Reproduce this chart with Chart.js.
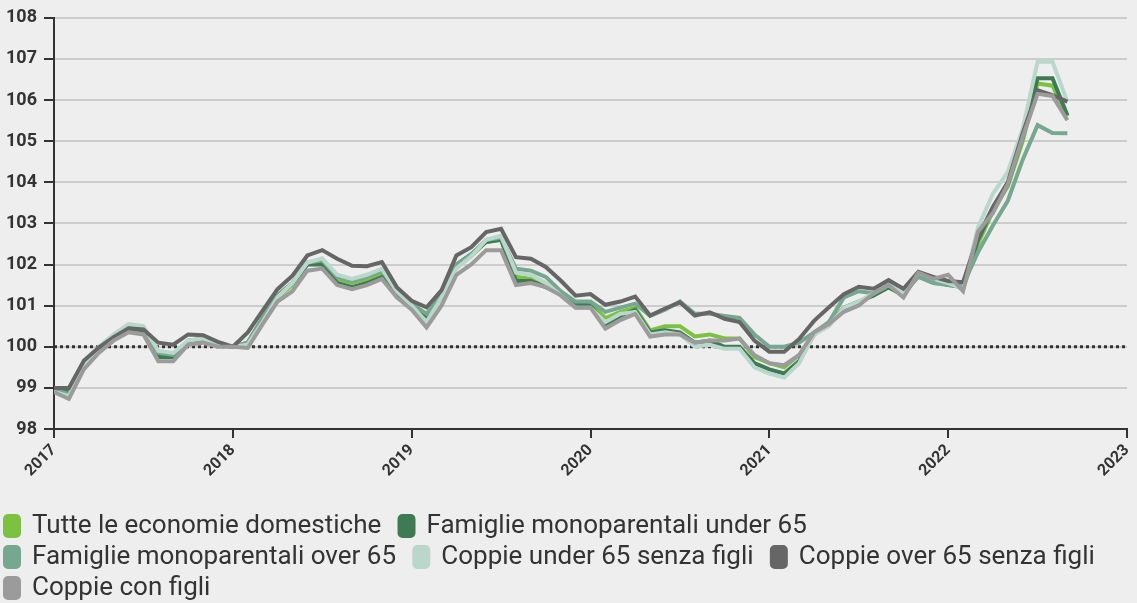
<!DOCTYPE html>
<html>
<head>
<meta charset="utf-8">
<script src="https://cdn.jsdelivr.net/npm/chart.js@4"></script>
<style>
  html, body { margin: 0; padding: 0; background: #eeeeee; }
  #wrap { width: 1137px; height: 603px; }
</style>
</head>
<body>
<div id="wrap"><canvas id="chart" width="1137" height="603"></canvas></div>
<script>
// mesi da gennaio 2017 (indice 0) a settembre 2022 (indice 68)
const yearLabels = ['2017', '2018', '2019', '2020', '2021', '2022', '2023'];

const seriesNames = [
    'Tutte le economie domestiche',
    'Famiglie monoparentali under 65',
    'Famiglie monoparentali over 65',
    'Coppie under 65 senza figli',
    'Coppie over 65 senza figli',
    'Coppie con figli',
];

const tutte = [
    98.95, 98.85, 99.5, 99.9, 100.2, 100.42, 100.35, 99.8, 99.75, 100.1, 100.15, 100.05,
    100.0, 100.05, 100.65, 101.2, 101.5, 102.0, 102.05, 101.65, 101.55, 101.65, 101.8, 101.3,
    101.0, 100.7, 101.2, 101.95, 102.2, 102.55, 102.6, 101.7, 101.65, 101.5, 101.3, 101.05,
    101.05, 100.7, 100.85, 100.95, 100.4, 100.5, 100.5, 100.25, 100.3, 100.2, 100.2, 99.75,
    99.6, 99.5, 99.8, 100.3, 100.6, 100.9, 101.1, 101.25, 101.45, 101.25, 101.75, 101.6,
    101.55, 101.4, 102.5, 103.3, 103.9, 105.0, 106.4, 106.35, 105.6,
];
const monoUnder65 = [
    98.95, 98.9, 99.55, 99.95, 100.2, 100.45, 100.4, 99.75, 99.75, 100.1, 100.2, 100.05,
    100.0, 100.1, 100.7, 101.25, 101.55, 102.0, 102.0, 101.55, 101.45, 101.55, 101.7, 101.3,
    101.0, 100.75, 101.25, 102.0, 102.25, 102.55, 102.6, 101.6, 101.6, 101.45, 101.3, 101.05,
    101.0, 100.55, 100.75, 100.9, 100.35, 100.4, 100.35, 100.1, 100.15, 100.0, 100.0, 99.6,
    99.45, 99.35, 99.65, 100.3, 100.55, 100.95, 101.1, 101.25, 101.45, 101.25, 101.75, 101.6,
    101.5, 101.45, 102.6, 103.35, 103.95, 105.1, 106.53, 106.53, 105.63,
];
const monoOver65 = [
    98.95, 98.85, 99.5, 99.95, 100.25, 100.5, 100.45, 99.85, 99.8, 100.15, 100.2, 100.05,
    100.0, 100.1, 100.7, 101.25, 101.55, 102.05, 102.1, 101.7, 101.6, 101.7, 101.85, 101.35,
    101.05, 100.8, 101.25, 102.0, 102.25, 102.6, 102.65, 101.9, 101.85, 101.7, 101.35, 101.1,
    101.1, 100.85, 100.95, 101.05, 100.75, 100.9, 101.1, 100.8, 100.8, 100.75, 100.7, 100.3,
    100.0, 100.0, 100.1, 100.35, 100.6, 101.2, 101.35, 101.3, 101.5, 101.3, 101.7, 101.55,
    101.5, 101.5, 102.3, 102.95, 103.55, 104.55, 105.39, 105.2, 105.19,
];
const coppieUnder65 = [
    98.9, 98.8, 99.5, 100.0, 100.3, 100.55, 100.5, 99.9, 99.85, 100.15, 100.2, 100.05,
    100.0, 100.05, 100.6, 101.2, 101.55, 102.05, 102.15, 101.75, 101.65, 101.75, 101.9, 101.35,
    101.0, 100.6, 101.2, 101.9, 102.2, 102.6, 102.7, 101.8, 101.75, 101.55, 101.25, 100.95,
    100.95, 100.6, 100.8, 100.85, 100.3, 100.35, 100.3, 100.0, 100.05, 99.95, 99.95, 99.5,
    99.35, 99.25, 99.6, 100.3, 100.5, 100.95, 101.1, 101.3, 101.5, 101.3, 101.8, 101.65,
    101.55, 101.4, 102.9, 103.72, 104.25, 105.3, 106.93, 106.93, 105.96,
];
const coppieOver65 = [
    99.0, 99.0, 99.66, 99.98, 100.23, 100.45, 100.42, 100.1, 100.05, 100.3, 100.28, 100.12,
    100.0, 100.35, 100.88, 101.4, 101.73, 102.22, 102.35, 102.14, 101.97, 101.96, 102.06, 101.45,
    101.12, 100.96, 101.37, 102.22, 102.42, 102.79, 102.87, 102.18, 102.14, 101.94, 101.61, 101.24,
    101.28, 101.02, 101.1, 101.22, 100.76, 100.93, 101.08, 100.76, 100.84, 100.68, 100.6, 100.15,
    99.88, 99.88, 100.19, 100.63, 100.96, 101.28, 101.46, 101.41, 101.62, 101.41, 101.82, 101.7,
    101.6, 101.57, 102.67, 103.4, 104.0, 105.19, 106.24, 106.12, 105.96,
];
const coppieFigli = [
    98.9, 98.73, 99.45, 99.85, 100.15, 100.35, 100.3, 99.65, 99.65, 100.05, 100.1, 100.0,
    100.0, 99.97, 100.55, 101.1, 101.35, 101.85, 101.9, 101.5, 101.4, 101.5, 101.65, 101.2,
    100.9, 100.47, 101.0, 101.75, 102.0, 102.35, 102.35, 101.5, 101.55, 101.45, 101.25, 100.95,
    100.95, 100.44, 100.65, 100.8, 100.25, 100.3, 100.3, 100.1, 100.15, 100.15, 100.2, 99.8,
    99.6, 99.55, 99.8, 100.35, 100.55, 100.85, 101.0, 101.3, 101.5, 101.2, 101.8, 101.65,
    101.75, 101.35, 102.8, 103.25, 103.95, 105.1, 106.15, 106.1, 105.51,
];

const seriesValues = [tutte, monoUnder65, monoOver65, coppieUnder65, coppieOver65, coppieFigli];
const seriesColors = ['#7cc142', '#3e7b55', '#76a78f', '#bad7cb', '#666666', '#9b9b9b'];

const baseValue = 100;

// linea tratteggiata a 100
const baseLinePlugin = {
    id: 'baseLine',
    beforeDatasetsDraw(chart) {
        const {ctx, chartArea, scales} = chart;
        const y = scales.y.getPixelForValue(baseValue);
        ctx.save();
        ctx.strokeStyle = '#333333';
        ctx.lineWidth = 3;
        ctx.setLineDash([3, 3]);
        ctx.beginPath();
        ctx.moveTo(chartArea.left, y);
        ctx.lineTo(chartArea.right, y);
        ctx.stroke();
        ctx.restore();
    }
};

const datasets = seriesNames.map((name, i) => ({
    label: name,
    data: seriesValues[i].map((v, m) => ({x: m, y: v})),
    borderColor: seriesColors[i],
    backgroundColor: seriesColors[i],
    borderWidth: 4,
    pointRadius: 0,
    tension: 0,
    order: seriesNames.length - i,
}));

Chart.defaults.font.family = 'Roboto, sans-serif';
Chart.defaults.color = '#333333';

// voci di legenda con un po' di spazio dopo il testo
const defaultLabels = Chart.overrides.line.plugins?.legend?.labels?.generateLabels
    || Chart.defaults.plugins.legend.labels.generateLabels;

new Chart(document.getElementById('chart'), {
    type: 'line',
    data: {datasets: datasets},
    options: {
        responsive: false,
        animation: false,
        layout: {padding: {left: 0, right: 10, top: 14, bottom: -8}},
        plugins: {
            legend: {
                position: 'bottom',
                align: 'start',
                labels: {
                    color: '#333333',
                    font: {size: 26},
                    boxWidth: 14,
                    boxHeight: 20,
                    useBorderRadius: true,
                    borderRadius: 3,
                    padding: 5,
                    sort: (a, b) => a.datasetIndex - b.datasetIndex,
                    generateLabels: chart => defaultLabels(chart).map(item => {
                        item.text = item.text + '\u2002';
                        return item;
                    }),
                },
            },
            tooltip: {enabled: false},
        },
        scales: {
            x: {
                type: 'linear',
                min: 0,
                max: 72,
                afterFit: scale => {
                    scale.height = 79;
                    scale.paddingRight = 0;
                },
                border: {display: true, color: '#333333', width: 2},
                grid: {
                    drawOnChartArea: false,
                    tickColor: '#333333',
                    tickLength: 9,
                    lineWidth: 2,
                },
                ticks: {
                    stepSize: 12,
                    minRotation: 45,
                    maxRotation: 45,
                    color: '#333333',
                    font: {size: 16, weight: 'bold'},
                    callback: v => yearLabels[v / 12],
                },
            },
            y: {
                min: 98,
                max: 108,
                afterFit: scale => { scale.width = 54; },
                border: {display: true, color: '#333333', width: 2},
                grid: {
                    color: '#cccccc',
                    tickColor: '#333333',
                    tickLength: 10,
                    lineWidth: 2,
                },
                ticks: {
                    stepSize: 1,
                    color: '#333333',
                    font: {size: 18, weight: 'bold'},
                    padding: 7,
                },
            },
        },
    },
    plugins: [baseLinePlugin],
});
</script>
</body>
</html>
